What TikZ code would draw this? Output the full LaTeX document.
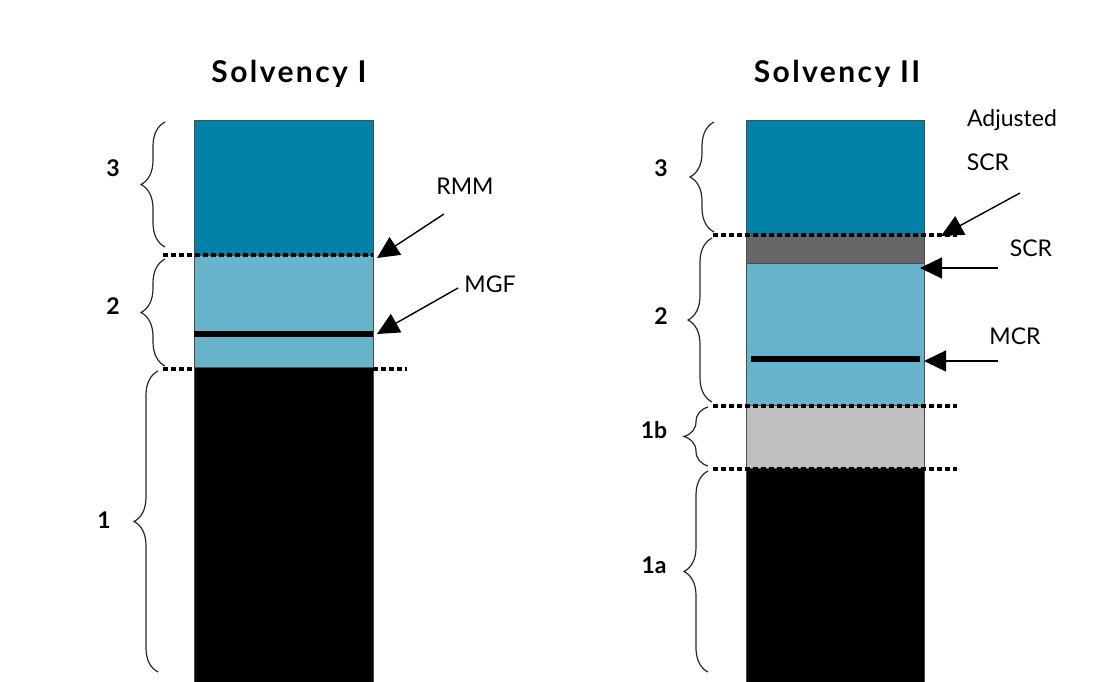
\documentclass[tikz,border=0pt]{standalone}
\usepackage{fontspec}
\setmainfont{Lato}
\newfontfamily\titlefont[LetterSpace=8.0]{Lato}
\usetikzlibrary{arrows.meta,decorations.pathreplacing}
\definecolor{tierthree}{RGB}{0,130,168}
\definecolor{tiertwo}{RGB}{103,179,204}
\definecolor{scrband}{RGB}{102,102,102}
\definecolor{tieroneb}{RGB}{192,192,192}
\definecolor{bracecol}{RGB}{40,40,40}
\tikzset{
  seg/.style={draw=black!70, line width=0.8pt, rectangle, inner sep=0pt},
  dotline/.style={line width=4pt, dash pattern=on 5pt off 3pt},
  levelline/.style={line width=6pt},
  pointer/.style={line width=1.4pt, -{Triangle[length=22pt,width=21pt]}},
  curly/.style={bracecol, line width=1.2pt, decorate,
    decoration={brace, amplitude=24pt}},
  title/.style={font=\titlefont\bfseries\fontsize{30}{34}\selectfont},
  tier/.style={font=\bfseries\fontsize{23}{26}\selectfont},
  lbl/.style={font=\fontsize{23}{26}\selectfont}
}
\begin{document}
\begin{tikzpicture}[x=1pt,y=-1pt]
\useasboundingbox (0,0) rectangle (1108,682);

% ---------- Solvency I ----------
\node[title] (t1) at (289,74) {Solvency I};
\node[seg, fill=tierthree, minimum width=179pt, minimum height=135pt] (l3) at (283.5,187.5) {};
\node[seg, fill=tiertwo,   minimum width=179pt, minimum height=112pt] (l2) at (283.5,311) {};
\node[seg, fill=black,     minimum width=179pt, minimum height=315pt] (l1) at (283.5,524.5) {};
\draw[levelline] (194,334) -- (373,334);
\draw[dotline] (163,255) -- (373,255);
\draw[dotline] (163,369) -- (194,369);
\draw[dotline] (373,369) -- (407,369);

\draw[curly] (165,247) -- (165,122);
\draw[curly] (165,366) -- (165,259);
\draw[curly] (158,672) -- (158,371);
\node[tier] (n3a) at (113,168) {3};
\node[tier] (n2a) at (113,306) {2};
\node[tier] (n1a) at (104,520) {1};

\node[lbl] (rmm) at (465,186) {RMM};
\node[lbl] (mgf) at (490,284) {MGF};
\coordinate (rmmtail) at (444,214);
\coordinate (rmmtip) at (377,258);
\coordinate (mgftail) at (458,288);
\coordinate (mgftip) at (377,334);
\draw[pointer] (rmmtail) -- (rmmtip);
\draw[pointer] (mgftail) -- (mgftip);

% ---------- Solvency II ----------
\node[title] (t2) at (837,74) {Solvency II};
\node[seg, fill=tierthree, minimum width=178pt, minimum height=115pt] (r3) at (835,177.5) {};
\node[seg, fill=scrband,   minimum width=178pt, minimum height=28pt]  (rs) at (835,249) {};
\node[seg, fill=tiertwo,   minimum width=178pt, minimum height=142pt] (r2) at (835,334) {};
\node[seg, fill=tieroneb,  minimum width=178pt, minimum height=63pt]  (r1b) at (835,436.5) {};
\node[seg, fill=black,     minimum width=178pt, minimum height=214pt] (r1a) at (835,575) {};
\draw[levelline] (751,359) -- (920,359);
\draw[dotline] (713,235) -- (957,235);
\draw[dotline] (713,406) -- (957,406);
\draw[dotline] (713,469) -- (957,469);

\draw[curly] (714,232) -- (714,122);
\draw[curly] (712,402) -- (712,238);
\draw[curly] (708,466) -- (708,407);
\draw[curly] (708,672) -- (708,471);
\node[tier] (n3b) at (661,168) {3};
\node[tier] (n2b) at (661,316) {2};
\node[tier] (n1bb) at (654,430) {1b};
\node[tier] (n1ab) at (654,565) {1a};

\node[lbl] (adj) at (1012,120) {Adjusted};
\node[lbl] (adjscr) at (988,162) {SCR};
\node[lbl] (scr) at (1031,248) {SCR};
\node[lbl] (mcr) at (1015,336) {MCR};
\coordinate (adjtail) at (1020,193);
\coordinate (adjtip) at (941,236);
\coordinate (scrtail) at (998,268);
\coordinate (scrtip) at (920,268);
\coordinate (mcrtail) at (998,361);
\coordinate (mcrtip) at (924,361);
\draw[pointer] (adjtail) -- (adjtip);
\draw[pointer] (scrtail) -- (scrtip);
\draw[pointer] (mcrtail) -- (mcrtip);
\end{tikzpicture}
\end{document}
